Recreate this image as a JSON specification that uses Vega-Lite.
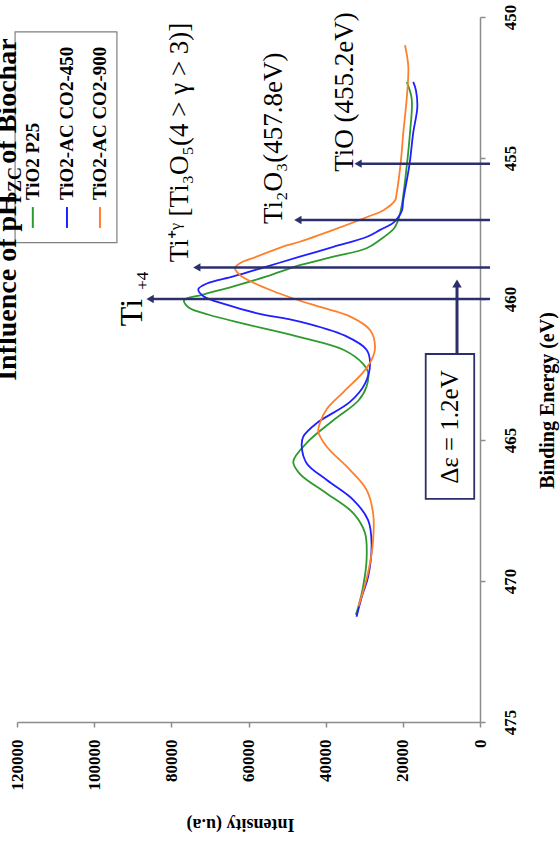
{
  "$schema": "https://vega.github.io/schema/vega-lite/v6.json",
  "autosize": {"type": "none"},
  "width": 463,
  "height": 705,
  "padding": {"left": 17, "top": 17, "right": 80, "bottom": 119},
  "background": "white",
  "config": {"view": {"stroke": null}},
  "datasets": {
    "curves": [
      {"s": "TiO2 P25", "E": 452.3, "I": 19000}, {"s": "TiO2 P25", "E": 452.9, "I": 17700}, {"s": "TiO2 P25", "E": 454.1, "I": 18140}, {"s": "TiO2 P25", "E": 455.3, "I": 19000}, {"s": "TiO2 P25", "E": 456.7, "I": 20300}, {"s": "TiO2 P25", "E": 457.2, "I": 21200}, {"s": "TiO2 P25", "E": 457.5, "I": 22300}, {"s": "TiO2 P25", "E": 457.9, "I": 25900}, {"s": "TiO2 P25", "E": 458.2, "I": 29400}, {"s": "TiO2 P25", "E": 458.5, "I": 38000}, {"s": "TiO2 P25", "E": 458.8, "I": 46700}, {"s": "TiO2 P25", "E": 459.2, "I": 55300}, {"s": "TiO2 P25", "E": 459.55, "I": 63900}, {"s": "TiO2 P25", "E": 459.85, "I": 72000}, {"s": "TiO2 P25", "E": 460.04, "I": 76700}, {"s": "TiO2 P25", "E": 460.3, "I": 75500}, {"s": "TiO2 P25", "E": 460.55, "I": 70500}, {"s": "TiO2 P25", "E": 460.9, "I": 60500}, {"s": "TiO2 P25", "E": 461.35, "I": 46700}, {"s": "TiO2 P25", "E": 461.8, "I": 35400}, {"s": "TiO2 P25", "E": 462.3, "I": 30300}, {"s": "TiO2 P25", "E": 462.6, "I": 29000}, {"s": "TiO2 P25", "E": 463.1, "I": 29400}, {"s": "TiO2 P25", "E": 463.6, "I": 31500}, {"s": "TiO2 P25", "E": 464.3, "I": 38000}, {"s": "TiO2 P25", "E": 465.1, "I": 44900}, {"s": "TiO2 P25", "E": 465.77, "I": 48400}, {"s": "TiO2 P25", "E": 466.2, "I": 46700}, {"s": "TiO2 P25", "E": 466.9, "I": 39700}, {"s": "TiO2 P25", "E": 467.6, "I": 32800}, {"s": "TiO2 P25", "E": 468.3, "I": 29800}, {"s": "TiO2 P25", "E": 469.26, "I": 29400}, {"s": "TiO2 P25", "E": 470.2, "I": 30300}, {"s": "TiO2 P25", "E": 470.9, "I": 31500}, {"s": "TiO2 P25", "E": 471.2, "I": 32200},
      {"s": "TiO2-AC CO2-450", "E": 452.3, "I": 17300}, {"s": "TiO2-AC CO2-450", "E": 452.6, "I": 16600}, {"s": "TiO2-AC CO2-450", "E": 453.2, "I": 16250}, {"s": "TiO2-AC CO2-450", "E": 454.1, "I": 17300}, {"s": "TiO2-AC CO2-450", "E": 455.25, "I": 18300}, {"s": "TiO2-AC CO2-450", "E": 456.5, "I": 19900}, {"s": "TiO2-AC CO2-450", "E": 456.85, "I": 20200}, {"s": "TiO2-AC CO2-450", "E": 457.1, "I": 21200}, {"s": "TiO2-AC CO2-450", "E": 457.3, "I": 22500}, {"s": "TiO2-AC CO2-450", "E": 457.55, "I": 25900}, {"s": "TiO2-AC CO2-450", "E": 457.8, "I": 29400}, {"s": "TiO2-AC CO2-450", "E": 458.15, "I": 38000}, {"s": "TiO2-AC CO2-450", "E": 458.5, "I": 46700}, {"s": "TiO2-AC CO2-450", "E": 458.85, "I": 55300}, {"s": "TiO2-AC CO2-450", "E": 459.2, "I": 63900}, {"s": "TiO2-AC CO2-450", "E": 459.45, "I": 70800}, {"s": "TiO2-AC CO2-450", "E": 459.65, "I": 73000}, {"s": "TiO2-AC CO2-450", "E": 459.9, "I": 71700}, {"s": "TiO2-AC CO2-450", "E": 460.2, "I": 65700}, {"s": "TiO2-AC CO2-450", "E": 460.5, "I": 58000}, {"s": "TiO2-AC CO2-450", "E": 460.8, "I": 46700}, {"s": "TiO2-AC CO2-450", "E": 461.3, "I": 35000}, {"s": "TiO2-AC CO2-450", "E": 461.8, "I": 29400}, {"s": "TiO2-AC CO2-450", "E": 462.3, "I": 28500}, {"s": "TiO2-AC CO2-450", "E": 463.0, "I": 29800}, {"s": "TiO2-AC CO2-450", "E": 463.65, "I": 33700}, {"s": "TiO2-AC CO2-450", "E": 464.4, "I": 42300}, {"s": "TiO2-AC CO2-450", "E": 464.88, "I": 45800}, {"s": "TiO2-AC CO2-450", "E": 465.24, "I": 46200}, {"s": "TiO2-AC CO2-450", "E": 465.83, "I": 44900}, {"s": "TiO2-AC CO2-450", "E": 466.42, "I": 39700}, {"s": "TiO2-AC CO2-450", "E": 467.13, "I": 32800}, {"s": "TiO2-AC CO2-450", "E": 467.84, "I": 29000}, {"s": "TiO2-AC CO2-450", "E": 468.66, "I": 28100}, {"s": "TiO2-AC CO2-450", "E": 469.85, "I": 29000}, {"s": "TiO2-AC CO2-450", "E": 470.5, "I": 30500}, {"s": "TiO2-AC CO2-450", "E": 471.27, "I": 32000},
      {"s": "TiO2-AC CO2-900", "E": 451.0, "I": 19440}, {"s": "TiO2-AC CO2-900", "E": 451.76, "I": 18580}, {"s": "TiO2-AC CO2-900", "E": 452.9, "I": 19000}, {"s": "TiO2-AC CO2-900", "E": 454.1, "I": 19880}, {"s": "TiO2-AC CO2-900", "E": 455.1, "I": 20500}, {"s": "TiO2-AC CO2-900", "E": 456.25, "I": 21600}, {"s": "TiO2-AC CO2-900", "E": 456.5, "I": 22000}, {"s": "TiO2-AC CO2-900", "E": 456.85, "I": 25000}, {"s": "TiO2-AC CO2-900", "E": 457.1, "I": 29400}, {"s": "TiO2-AC CO2-900", "E": 457.55, "I": 38000}, {"s": "TiO2-AC CO2-900", "E": 457.97, "I": 46700}, {"s": "TiO2-AC CO2-900", "E": 458.1, "I": 50100}, {"s": "TiO2-AC CO2-900", "E": 458.5, "I": 57900}, {"s": "TiO2-AC CO2-900", "E": 458.73, "I": 62200}, {"s": "TiO2-AC CO2-900", "E": 458.9, "I": 63500}, {"s": "TiO2-AC CO2-900", "E": 459.1, "I": 62600}, {"s": "TiO2-AC CO2-900", "E": 459.3, "I": 60500}, {"s": "TiO2-AC CO2-900", "E": 459.7, "I": 54000}, {"s": "TiO2-AC CO2-900", "E": 460.0, "I": 48000}, {"s": "TiO2-AC CO2-900", "E": 460.3, "I": 41000}, {"s": "TiO2-AC CO2-900", "E": 460.6, "I": 34000}, {"s": "TiO2-AC CO2-900", "E": 461.1, "I": 28500}, {"s": "TiO2-AC CO2-900", "E": 461.7, "I": 27200}, {"s": "TiO2-AC CO2-900", "E": 462.16, "I": 28100}, {"s": "TiO2-AC CO2-900", "E": 462.6, "I": 30300}, {"s": "TiO2-AC CO2-900", "E": 463.3, "I": 35400}, {"s": "TiO2-AC CO2-900", "E": 463.9, "I": 39700}, {"s": "TiO2-AC CO2-900", "E": 464.4, "I": 41500}, {"s": "TiO2-AC CO2-900", "E": 464.7, "I": 41900}, {"s": "TiO2-AC CO2-900", "E": 465.24, "I": 39700}, {"s": "TiO2-AC CO2-900", "E": 466.06, "I": 33700}, {"s": "TiO2-AC CO2-900", "E": 466.77, "I": 29400}, {"s": "TiO2-AC CO2-900", "E": 467.6, "I": 27700}, {"s": "TiO2-AC CO2-900", "E": 468.55, "I": 27700}, {"s": "TiO2-AC CO2-900", "E": 469.7, "I": 29000}, {"s": "TiO2-AC CO2-900", "E": 470.9, "I": 31500}
    ],
    "arrows": [
      {"E": 460.0, "I": 85500, "I2": -2600},
      {"E": 458.88, "I": 73400, "I2": -2600},
      {"E": 457.2, "I": 47200, "I2": -2600},
      {"E": 455.2, "I": 31600, "I2": -2600}
    ],
    "bigLabel": [{"E": 460.48, "I": 90200, "t": "Ti"}],
    "bigSup": [{"E": 459.35, "I": 87400, "t": "+4"}],
    "labels": [
      {"E": 454.45, "I": 77800, "t": "Ti⁺ᵞ [Ti₃O₅(4 > γ > 3)]"},
      {"E": 454.3, "I": 53400, "t": "Ti₂O₃(457.8eV)"},
      {"E": 452.66, "I": 35000, "t": "TiO (455.2eV)"}
    ],
    "deltaBox": [{"I": 14070, "I2": 1500, "E": 461.95, "E2": 467.09}],
    "deltaArrow": [{"I": 5960, "E": 461.95, "E2": 459.45}],
    "deltaHead": [{"I": 5960, "E": 459.45}],
    "deltaText": [{"I": 7800, "E": 464.54, "t": "Δε = 1.2eV"}],
    "legendBox": [{"I": 120500, "I2": 94100, "E": 450.53, "E2": 458.0}],
    "legendItems": [
      {"s": "TiO2 P25", "I": 115900, "E": 456.74, "E2": 457.48, "Et": 456.49},
      {"s": "TiO2-AC CO2-450", "I": 107050, "E": 456.74, "E2": 457.48, "Et": 456.49},
      {"s": "TiO2-AC CO2-900", "I": 98500, "E": 456.74, "E2": 457.48, "Et": 456.49}
    ],
    "titleMain": [
      {"I": 122300, "E": 462.9, "t": "Influence of pH"},
      {"I": 122300, "E": 455.2, "t": " of Biochar"}
    ],
    "titleSub": [{"I": 120300, "E": 456.6, "t": "PZC"}]
  },
  "encoding": {
    "x": {
      "field": "I", "type": "quantitative",
      "scale": {"domain": [0, 120000], "reverse": true, "nice": false, "zero": false},
      "axis": {
        "orient": "bottom", "values": [0, 20000, 40000, 60000, 80000, 100000, 120000], "format": "d",
        "labelAngle": 270, "labelAlign": "right", "labelBaseline": "middle",
        "labelFont": "Liberation Serif", "labelFontWeight": "bold", "labelFontSize": 17, "labelColor": "black",
        "labelPadding": 12, "labelFlush": false, "labelOverlap": false, "labelBound": false,
        "tickSize": 5, "tickColor": "#8c8c8c", "tickWidth": 1.5, "domainColor": "#8c8c8c", "domainWidth": 1.5, "grid": false,
        "title": "Intensity (u.a)", "titleAngle": 180, "titleFont": "Liberation Serif", "titleFontWeight": "bold", "titleFontSize": 18, "titleColor": "black",
        "titleX": 223, "titleY": 101, "titleAlign": "center", "titleBaseline": "middle"
      }
    },
    "y": {
      "field": "E", "type": "quantitative",
      "scale": {"domain": [450, 475], "reverse": true, "nice": false, "zero": false},
      "axis": {
        "orient": "right", "values": [450, 455, 460, 465, 470, 475],
        "labelAngle": 270, "labelAlign": "center", "labelBaseline": "middle",
        "labelFont": "Liberation Serif", "labelFontWeight": "bold", "labelFontSize": 17, "labelColor": "black",
        "labelPadding": 25, "labelFlush": false, "labelOverlap": false, "labelBound": false,
        "tickSize": 5, "tickColor": "#8c8c8c", "tickWidth": 1.5, "domainColor": "#8c8c8c", "domainWidth": 1.5, "grid": false,
        "title": "Binding Energy (eV)", "titleAngle": 270, "titleFont": "Liberation Serif", "titleFontWeight": "bold", "titleFontSize": 20, "titleColor": "black",
        "titleX": 67, "titleY": 383, "titleAlign": "center", "titleBaseline": "middle"
      }
    }
  },
  "layer": [
    {
      "data": {"name": "curves"},
      "mark": {"type": "line", "strokeWidth": 1.8, "interpolate": "catmull-rom"},
      "encoding": {
        "color": {"field": "s", "type": "nominal", "scale": {"domain": ["TiO2 P25", "TiO2-AC CO2-450", "TiO2-AC CO2-900"], "range": ["#2e9a2e", "#1f1fff", "#ff7f2a"]}, "legend": null},
        "order": {"field": "E", "type": "quantitative"}
      }
    },
    {
      "data": {"name": "arrows"},
      "mark": {"type": "rule", "color": "#2b2f6b", "strokeWidth": 2.5},
      "encoding": {"x2": {"field": "I2"}}
    },
    {
      "data": {"name": "arrows"},
      "mark": {"type": "point", "shape": "triangle-left", "filled": true, "color": "#2b2f6b", "size": 70, "opacity": 1}
    },
    {
      "data": {"name": "bigLabel"},
      "mark": {"type": "text", "angle": 270, "align": "center", "baseline": "middle", "font": "Liberation Serif", "fontSize": 32, "color": "black"},
      "encoding": {"text": {"field": "t"}}
    },
    {
      "data": {"name": "bigSup"},
      "mark": {"type": "text", "angle": 270, "align": "center", "baseline": "middle", "font": "Liberation Serif", "fontSize": 17, "color": "black"},
      "encoding": {"text": {"field": "t"}}
    },
    {
      "data": {"name": "labels"},
      "mark": {"type": "text", "angle": 270, "align": "center", "baseline": "middle", "font": "Liberation Serif", "fontSize": 27, "color": "black"},
      "encoding": {"text": {"field": "t"}}
    },
    {
      "data": {"name": "deltaBox"},
      "mark": {"type": "rect", "fill": "white", "stroke": "#2b2f6b", "strokeWidth": 1.8},
      "encoding": {"x2": {"field": "I2"}, "y2": {"field": "E2"}}
    },
    {
      "data": {"name": "deltaArrow"},
      "mark": {"type": "rule", "color": "#2b2f6b", "strokeWidth": 3},
      "encoding": {"y2": {"field": "E2"}}
    },
    {
      "data": {"name": "deltaHead"},
      "mark": {"type": "point", "shape": "triangle-up", "filled": true, "color": "#2b2f6b", "size": 90, "opacity": 1}
    },
    {
      "data": {"name": "deltaText"},
      "mark": {"type": "text", "angle": 270, "align": "center", "baseline": "middle", "font": "Liberation Serif", "fontSize": 25, "color": "black"},
      "encoding": {"text": {"field": "t"}}
    },
    {
      "data": {"name": "legendBox"},
      "mark": {"type": "rect", "fill": "white", "stroke": "#808080", "strokeWidth": 1.2},
      "encoding": {"x2": {"field": "I2"}, "y2": {"field": "E2"}}
    },
    {
      "data": {"name": "legendItems"},
      "mark": {"type": "rule", "strokeWidth": 2},
      "encoding": {
        "y2": {"field": "E2"},
        "color": {"field": "s", "type": "nominal", "legend": null}
      }
    },
    {
      "data": {"name": "legendItems"},
      "mark": {"type": "text", "angle": 270, "align": "left", "baseline": "middle", "font": "Liberation Serif", "fontWeight": "bold", "fontSize": 19, "color": "black"},
      "encoding": {"y": {"field": "Et", "type": "quantitative"}, "text": {"field": "s"}}
    },
    {
      "data": {"name": "titleMain"},
      "mark": {"type": "text", "angle": 270, "align": "left", "baseline": "middle", "font": "Liberation Serif", "fontWeight": "bold", "fontSize": 28, "color": "black"},
      "encoding": {"text": {"field": "t"}}
    },
    {
      "data": {"name": "titleSub"},
      "mark": {"type": "text", "angle": 270, "align": "left", "baseline": "middle", "font": "Liberation Serif", "fontWeight": "bold", "fontSize": 18, "color": "black"},
      "encoding": {"text": {"field": "t"}}
    }
  ]
}
